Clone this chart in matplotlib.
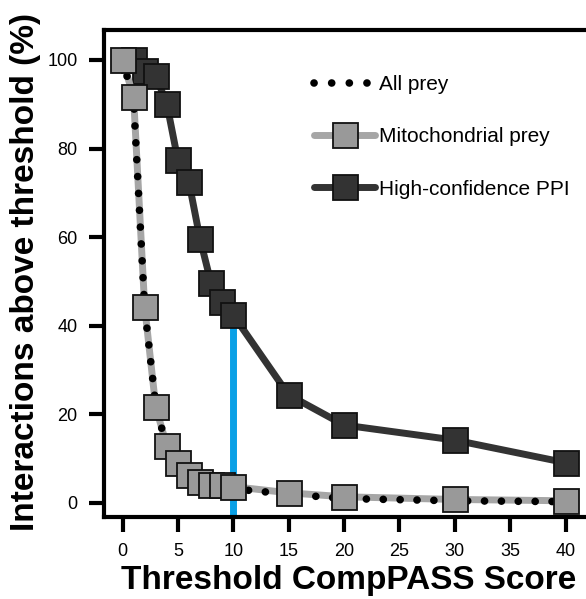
import matplotlib
matplotlib.use('Agg')
import matplotlib.pyplot as plt
from matplotlib.lines import Line2D

plt.rcParams['font.family'] = ['Liberation Sans', 'DejaVu Sans']

# Threshold CompPASS score vs % interactions kept
thresholds = [0, 1, 2, 3, 4, 5, 6, 7, 8, 9, 10, 15, 20, 30, 40]
all_prey = [100, 91, 44, 22, 12.5, 8.5, 6.2, 4.8, 4.0, 3.6, 3.2, 2.0, 1.0, 0.5, 0.3]
mito_prey = [100, 91.7, 44.3, 21.7, 12.9, 9.0, 6.3, 4.8, 4.1, 4.1, 3.7, 2.3, 1.4, 0.8, 0.5]
hc_thresholds = [1, 2, 3, 4, 5, 6, 7, 8, 9, 10, 15, 20, 30, 40]
hc_ppi = [100, 97.4, 96.4, 90.1, 77.4, 72.4, 59.6, 49.6, 45.4, 42.4, 24.4, 17.6, 14.2, 9.1]
cutoff = 10
xticks = [0, 5, 10, 15, 20, 25, 30, 35, 40]
yticks = [0, 20, 40, 60, 80, 100]

gray_line = '#a6a6a6'
gray_fill = '#999999'
dark = '#333333'
blue = '#0aa0e6'
dots = (0, (0.01, 2.2))

fig = plt.figure(figsize=(5.86, 5.99), dpi=100)
ax = fig.add_axes([0.1775, 0.1369, 0.8325, 0.8131])
ymin, ymax = -3.16, 106.77
ax.set_xlim(-1.67, 42.38)
ax.set_ylim(ymin, ymax)

# cutoff line
ax.plot([cutoff, cutoff], [ymin, hc_ppi[hc_thresholds.index(cutoff)]], color=blue,
        lw=5, solid_capstyle='butt', zorder=1, clip_on=False)

msq = dict(marker='s', markersize=18, markeredgewidth=1.3, markeredgecolor='#111111')
ax.plot(hc_thresholds, hc_ppi, color=dark, lw=5, zorder=2, markerfacecolor=dark, **msq)
ax.plot(thresholds, mito_prey, color=gray_line, lw=5, zorder=3)
ax.plot(thresholds, all_prey, color='black', lw=5.5, linestyle=dots,
        dash_capstyle='round', zorder=4)
ax.plot(thresholds, mito_prey, lw=0, zorder=5, markerfacecolor=gray_fill, **msq)

for side in ['left', 'bottom', 'top', 'right']:
    ax.spines[side].set_linewidth(3)
ax.tick_params(width=3, length=11, labelsize=13, pad=8)
ax.set_xticks(xticks)
ax.set_yticks(yticks)

# legend
h_all = Line2D([], [], color='black', lw=5.5, linestyle=(0, (0.01, 2.3)), dash_capstyle='round')
h_mito = Line2D([], [], color=gray_line, lw=5, solid_capstyle='round',
                markerfacecolor=gray_fill, **msq)
h_hc = Line2D([], [], color=dark, lw=5, solid_capstyle='round', markerfacecolor=dark, **msq)
fig.legend([h_all, h_mito, h_hc], ['All prey', 'Mitochondrial prey', 'High-confidence PPI'],
           loc='upper left', bbox_to_anchor=(314 / 586, 1 - 75 / 599), frameon=False,
           fontsize=15, handlelength=2.95, handletextpad=0.15, labelspacing=1.6,
           borderpad=0, borderaxespad=0)

fig.text(26 / 586, 1 - 272 / 599, 'Interactions above threshold (%)', rotation=90,
         ha='center', va='center', fontsize=24, fontweight='bold')
fig.text(349 / 586, 1 - 580 / 599, 'Threshold CompPASS Score', ha='center', va='center',
         fontsize=24, fontweight='bold')

fig.savefig('out.png', dpi=100)
